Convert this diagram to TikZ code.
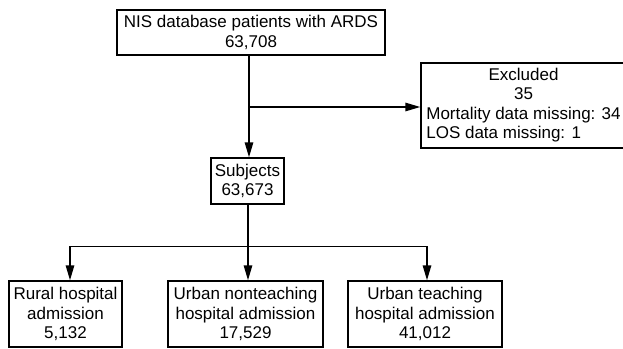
\documentclass[tikz,border=0pt]{standalone}
\usepackage{fontspec}
\setmainfont{Liberation Sans}
\usetikzlibrary{arrows.meta}
\begin{document}
\begin{tikzpicture}[x=1pt,y=-1pt,
  box/.style={draw, line width=1.5pt, inner sep=0pt, align=center,
    font=\fontsize{17}{19.6}\selectfont},
  arr/.style={line width=1.5pt, -{Triangle[length=15pt,width=8.5pt]}},
  ln/.style={line width=1.5pt}]
\useasboundingbox (0,0) rectangle (623,348);
\node[box, minimum width=268pt, minimum height=45pt] (top) at (251,32.5)
  {NIS database patients with ARDS\\63,708};
\node[box, minimum width=205pt, minimum height=85pt] (excl) at (523.5,105.5)
  {\begin{tabular}{@{}l@{}}\multicolumn{1}{@{}c@{}}{Excluded}\\
   \multicolumn{1}{@{}c@{}}{35}\\
   Mortality data missing: 34\\
   LOS data missing: 1\end{tabular}};
\node[box, minimum width=73pt, minimum height=46pt] (subj) at (247.5,181)
  {Subjects\\63,673};
\node[box, minimum width=113pt, minimum height=66pt] (rural) at (65.5,314)
  {Rural hospital\\admission\\5,132};
\node[box, minimum width=155pt, minimum height=66pt] (mid) at (245.5,314)
  {Urban nonteaching\\hospital admission\\17,529};
\node[box, minimum width=154pt, minimum height=66pt] (teach) at (425,314)
  {Urban teaching\\hospital admission\\41,012};
\coordinate (br) at (249,107);
\coordinate (hm) at (248,246.5);
\coordinate (hl) at (70,246.5);
\coordinate (hr) at (427,246.5);
\draw[arr] (top.south -| br) -- (br |- subj.north);
\draw[arr] (br) -- (br -| excl.west);
\draw[arr] (hm |- subj.south) -- (hm |- mid.north);
\draw[arr] (hm) -- (hl) -- (hl |- rural.north);
\draw[arr] (hm) -- (hr) -- (hr |- teach.north);
\end{tikzpicture}
\end{document}
